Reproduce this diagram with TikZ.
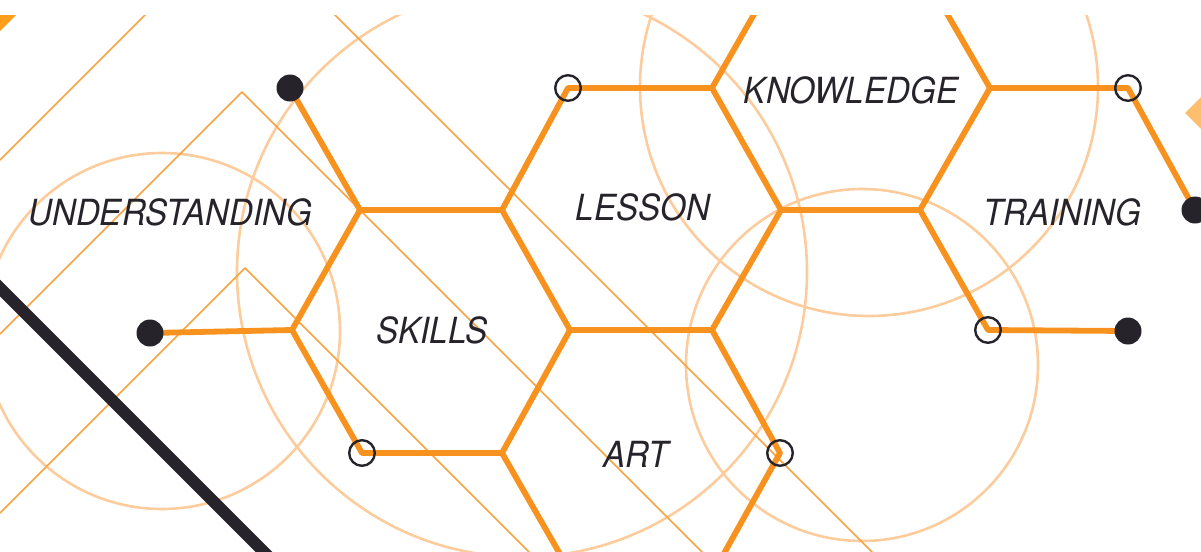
\documentclass[tikz,border=0pt]{standalone}
\usepackage{fontspec}
\setmainfont{TeX Gyre Heros}[FakeStretch=0.92]
\definecolor{hexorange}{RGB}{247,146,30}
\definecolor{paleorange}{RGB}{252,204,156}
\definecolor{diamondorange}{RGB}{253,191,111}
\definecolor{cornerorange}{RGB}{255,158,27}
\definecolor{inkdark}{RGB}{39,35,43}
\begin{document}
\begin{tikzpicture}[x=0.5pt, y=-0.5pt, line join=round, line cap=round,
	hexline/.style={hexorange, line width=2.9pt},
	thinline/.style={hexorange!85, line width=0.8pt},
	ring/.style={paleorange, line width=1.3pt},
	dotfill/.style={circle, fill=inkdark, inner sep=0pt, minimum size=13.5pt},
	opendot/.style={circle, draw=inkdark, line width=1.2pt, inner sep=0pt, minimum size=12.8pt},
	lbl/.style={text=inkdark, font=\fontsize{18}{21}\selectfont\itshape, inner sep=0pt}]
	\useasboundingbox (0,0) rectangle (1201,552);
	\begin{scope}
		\clip (0,15) rectangle (1201,552);
		\draw[ring] (162,331) circle[radius=178];
		\draw[ring] (522,272) circle[radius=285];
		\draw[ring] (869,87) circle[radius=229];
		\draw[ring] (862,365) circle[radius=176];
		\draw[thinline] (160,0)--(0,160);
		\draw[thinline] (0,334)--(242,92)--(702,552);
		\draw[thinline] (0,513)--(245,268)--(529,552);
		\draw[thinline] (320,0)--(872,552);
		\draw[inkdark, line width=6pt, line cap=butt] (-10,278)--(280,568);
		\fill[cornerorange] (0,15)--(16,15)--(0,31)--cycle;
		\fill[diamondorange] (1185,113)--(1210,88)--(1235,113)--(1210,138)--cycle;
		\coordinate (a1) at (290,88);
		\coordinate (a2) at (568,88);
		\coordinate (a3) at (712,88);
		\coordinate (a4) at (990,88);
		\coordinate (a5) at (1128,88);
		\coordinate (b1) at (360,210);
		\coordinate (b2) at (502,210);
		\coordinate (b3) at (781,210);
		\coordinate (b4) at (920,210);
		\coordinate (b5) at (1195,210);
		\coordinate (c0) at (150,333);
		\coordinate (c1) at (292,330);
		\coordinate (c2) at (570,330);
		\coordinate (c3) at (712,330);
		\coordinate (c4) at (988,330);
		\coordinate (c5) at (1128,331);
		\coordinate (d1) at (362,453);
		\coordinate (d2) at (502,453);
		\coordinate (d3) at (780,453);
		\coordinate (t1) at (781,-33);
		\coordinate (t2) at (920,-33);
		\coordinate (e1) at (572,575);
		\coordinate (e2) at (712,575);
		\draw[hexline] (a1)--(b1)--(b2)--(a2)--(a3)--(b3)--(b4)--(a4)--(a5)--(b5);
		\draw[hexline] (c0)--(c1)--(d1)--(d2)--(c2)--(c3)--(d3)--(e2);
		\draw[hexline] (b1)--(c1) (b2)--(c2) (b3)--(c3) (a3)--(t1) (a4)--(t2) (d2)--(e1);
		\draw[hexline] (b4)--(c4)--(c5);
		\node[dotfill] (da1) at (a1) {};
		\node[dotfill] (dc0) at (c0) {};
		\node[dotfill] (db5) at (b5) {};
		\node[dotfill] (dc5) at (c5) {};
		\node[opendot] (oa2) at (a2) {};
		\node[opendot] (oa5) at (a5) {};
		\node[opendot] (oc4) at (c4) {};
		\node[opendot] (od1) at (d1) {};
		\node[opendot] (od3) at (d3) {};
	\end{scope}
	\node[lbl] (understanding) at (170,212) {UNDERSTANDING};
	\node[lbl] (lesson) at (643,207) {LESSON};
	\node[lbl] (knowledge) at (851,90) {KNOWLEDGE};
	\node[lbl] (training) at (1062,212) {TRAINING};
	\node[lbl] (skills) at (432,330) {SKILLS};
	\node[lbl] (art) at (636,454) {ART};
\end{tikzpicture}
\end{document}
